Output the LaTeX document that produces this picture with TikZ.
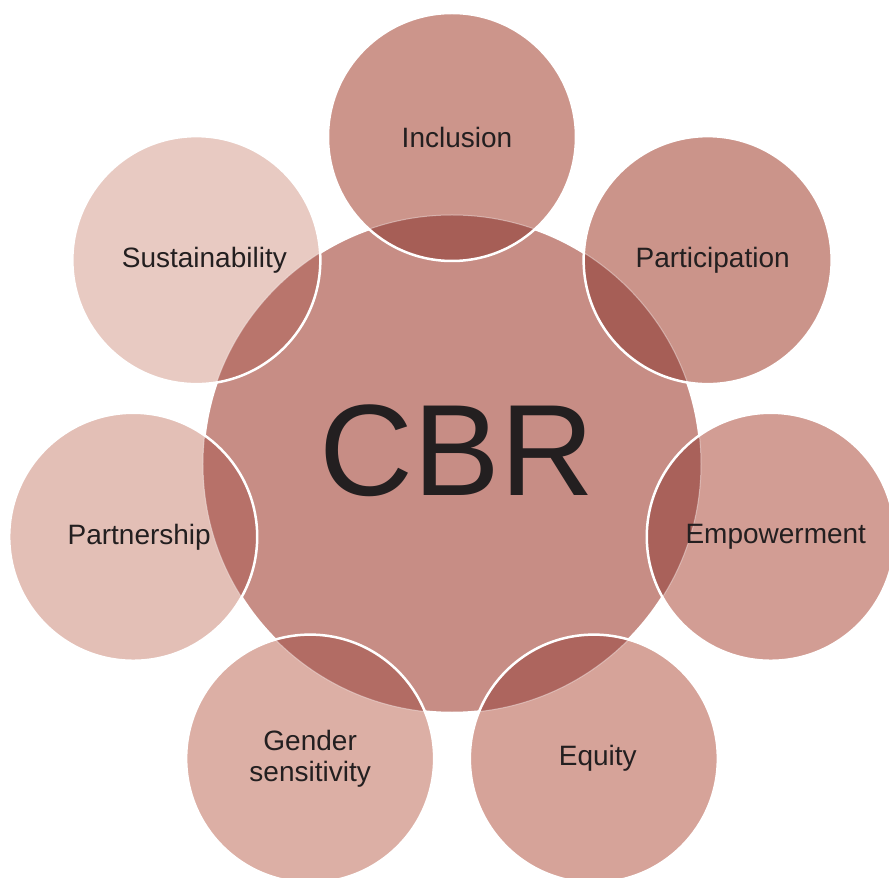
\documentclass[tikz,border=0pt]{standalone}
\usepackage{fontspec}
\setmainfont{Liberation Sans}

\definecolor{ink}{HTML}{231F20}
\definecolor{hub}{HTML}{C78D85}
% petal fills, and the darker tone where each one lies over the hub
\definecolor{pInclusion}{HTML}{CC958B}      \definecolor{oInclusion}{HTML}{A65E56}
\definecolor{pParticipation}{HTML}{CB948A}  \definecolor{oParticipation}{HTML}{A65E56}
\definecolor{pEmpowerment}{HTML}{D29D94}    \definecolor{oEmpowerment}{HTML}{A9615A}
\definecolor{pEquity}{HTML}{D6A399}         \definecolor{oEquity}{HTML}{AD655E}
\definecolor{pGender}{HTML}{DCAFA5}         \definecolor{oGender}{HTML}{B26C64}
\definecolor{pPartnership}{HTML}{E3BFB6}    \definecolor{oPartnership}{HTML}{B77169}
\definecolor{pSustainability}{HTML}{E8CAC2} \definecolor{oSustainability}{HTML}{B9756C}

\begin{document}
\begin{tikzpicture}[x=1pt, y=1pt,
    ring/.style={white, line width=2.5pt},
    word/.style={text=ink, font=\fontsize{28}{31}\selectfont, align=center}]

	\useasboundingbox (-452,-414) rectangle (437,464);

	% the hub
	\fill[hub] (0,0) circle [radius=249];
	\draw[ring] (0,0) circle [radius=249];

	% seven petals round it
	\foreach \a/\c in {90/Inclusion, 38.57/Participation, -12.86/Empowerment,
	    -64.29/Equity, -115.71/Gender, -167.14/Partnership, 141.43/Sustainability}
	{
	  \fill[p\c] (\a:327) circle [radius=124];
	  \begin{scope}
	    \clip (\a:327) circle [radius=124];
	    \fill[o\c] (0,0) circle [radius=249];
	    \draw[white, opacity=0.4, line width=1pt] (0,0) circle [radius=249];
	  \end{scope}
	  \draw[ring] (\a:327) circle [radius=124];
	}

	\node[text=ink, font=\fontsize{130}{130}\selectfont] (cbr) at (5,13) {CBR};

	\node[word, shift={(5,0)}] (incl) at (90:327) {Inclusion};
	\node[word, shift={(5,0)}] (part) at (38.57:327) {Participation};
	\node[word, shift={(5,0)}] (empw) at (-12.86:327) {Empowerment};
	\node[word, shift={(4,0)}] (equi) at (-64.29:327) {Equity};
	\node[word] (gend) at (-115.71:327) {Gender\\sensitivity};
	\node[word, shift={(6,0)}] (ptnr) at (-167.14:327) {Partnership};
	\node[word, shift={(8,0)}] (sust) at (141.43:327) {Sustainability};
\end{tikzpicture}
\end{document}
